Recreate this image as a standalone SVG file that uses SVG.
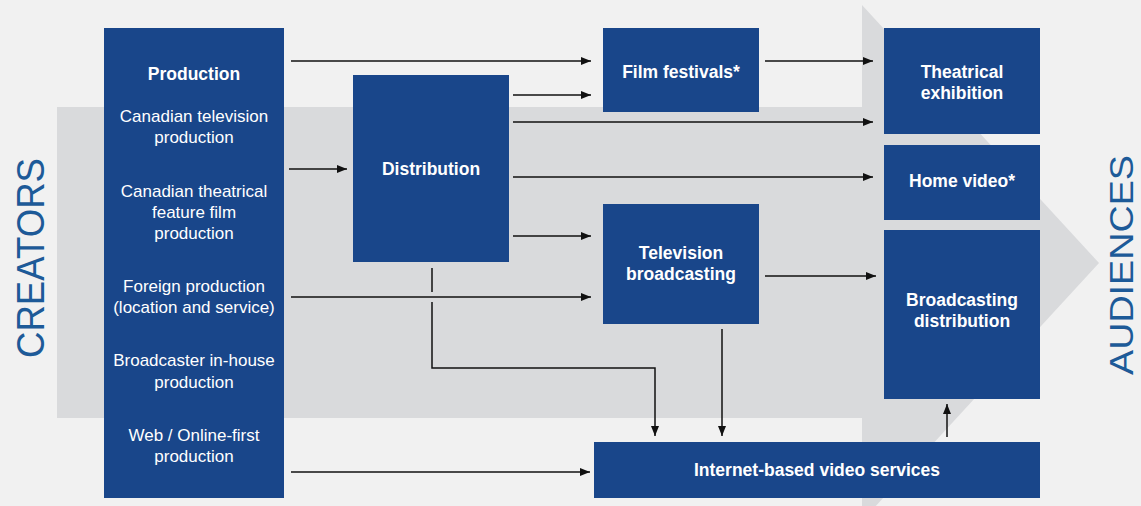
<svg xmlns="http://www.w3.org/2000/svg" width="1141" height="506" viewBox="0 0 1141 506">
<style>
.box{fill:#19468a}
.t{font-family:"Liberation Sans",Arial,sans-serif;fill:#ffffff;text-anchor:middle}
.b{font-weight:bold;font-size:17.5px}
.r{font-size:17px}
.c{fill:none;stroke:#111111;stroke-width:1.5}
.side{font-family:"Liberation Sans",Arial,sans-serif;fill:#1d5a98;text-anchor:middle}
</style>
<defs>
<marker id="ah" viewBox="0 0 10 8" refX="10" refY="4" markerWidth="10" markerHeight="8" markerUnits="userSpaceOnUse" orient="auto">
<path d="M0,0 L10,4 L0,8 Z" fill="#111111"/>
</marker>
</defs>
<rect x="0" y="0" width="1141" height="506" fill="#f1f1f1"/>
<g id="bigarrow">
<rect x="57" y="107" width="806" height="311" fill="#d9dadc"/>
<polygon points="862,5 1099,263 862,521" fill="#d9dadc"/>
</g>
<g id="labels">
<text class="side" font-size="38" transform="translate(44,258) rotate(-90)" textLength="200" lengthAdjust="spacingAndGlyphs">CREATORS</text>
<text class="side" font-size="34" transform="translate(1133,265) rotate(-90)" textLength="220" lengthAdjust="spacingAndGlyphs">AUDIENCES</text>
</g>
<g id="connectors">
<line class="c" x1="291" y1="61" x2="591" y2="61" marker-end="url(#ah)"/>
<line class="c" x1="513" y1="95" x2="591" y2="95" marker-end="url(#ah)"/>
<line class="c" x1="513" y1="122" x2="873" y2="122" marker-end="url(#ah)"/>
<line class="c" x1="513" y1="177" x2="873" y2="177" marker-end="url(#ah)"/>
<line class="c" x1="513" y1="236" x2="591" y2="236" marker-end="url(#ah)"/>
<line class="c" x1="289" y1="169" x2="347" y2="169" marker-end="url(#ah)"/>
<line class="c" x1="291" y1="297" x2="591" y2="297" marker-end="url(#ah)"/>
<line class="c" x1="765" y1="61" x2="873" y2="61" marker-end="url(#ah)"/>
<line class="c" x1="765" y1="276" x2="876" y2="276" marker-end="url(#ah)"/>
<line class="c" x1="432" y1="268" x2="432" y2="292"/>
<polyline class="c" points="432,302 432,368 655,368 655,436" marker-end="url(#ah)"/>
<line class="c" x1="722" y1="329" x2="722" y2="436" marker-end="url(#ah)"/>
<line class="c" x1="947" y1="437" x2="947" y2="404" marker-end="url(#ah)"/>
<line class="c" x1="291" y1="472" x2="590" y2="472" marker-end="url(#ah)"/>
</g>
<g id="production">
<rect class="box" x="104" y="28" width="180" height="470"/>
<text class="t b" x="194" y="80">Production</text>
<text class="t r" x="194" y="122">Canadian television</text>
<text class="t r" x="194" y="143">production</text>
<text class="t r" x="194" y="197">Canadian theatrical</text>
<text class="t r" x="194" y="218">feature film</text>
<text class="t r" x="194" y="239">production</text>
<text class="t r" x="194" y="292">Foreign production</text>
<text class="t r" x="194" y="313">(location and service)</text>
<text class="t r" x="194" y="366">Broadcaster in-house</text>
<text class="t r" x="194" y="388">production</text>
<text class="t r" x="194" y="441">Web / Online-first</text>
<text class="t r" x="194" y="462">production</text>
</g>
<g id="distribution">
<rect class="box" x="353" y="75" width="156" height="187"/>
<text class="t b" x="431" y="175">Distribution</text>
</g>
<g id="film-festivals">
<rect class="box" x="603" y="28" width="156" height="84"/>
<text class="t b" x="681" y="78">Film festivals*</text>
</g>
<g id="television-broadcasting">
<rect class="box" x="603" y="204" width="156" height="120"/>
<text class="t b" x="681" y="259">Television</text>
<text class="t b" x="681" y="280">broadcasting</text>
</g>
<g id="theatrical-exhibition">
<rect class="box" x="884" y="28" width="156" height="106"/>
<text class="t b" x="962" y="78">Theatrical</text>
<text class="t b" x="962" y="99">exhibition</text>
</g>
<g id="home-video">
<rect class="box" x="884" y="145" width="156" height="75"/>
<text class="t b" x="962" y="187">Home video*</text>
</g>
<g id="broadcasting-distribution">
<rect class="box" x="884" y="230" width="156" height="169"/>
<text class="t b" x="962" y="306">Broadcasting</text>
<text class="t b" x="962" y="327">distribution</text>
</g>
<g id="internet-video">
<rect class="box" x="594" y="442" width="446" height="56"/>
<text class="t b" x="817" y="476">Internet-based video services</text>
</g>
</svg>
